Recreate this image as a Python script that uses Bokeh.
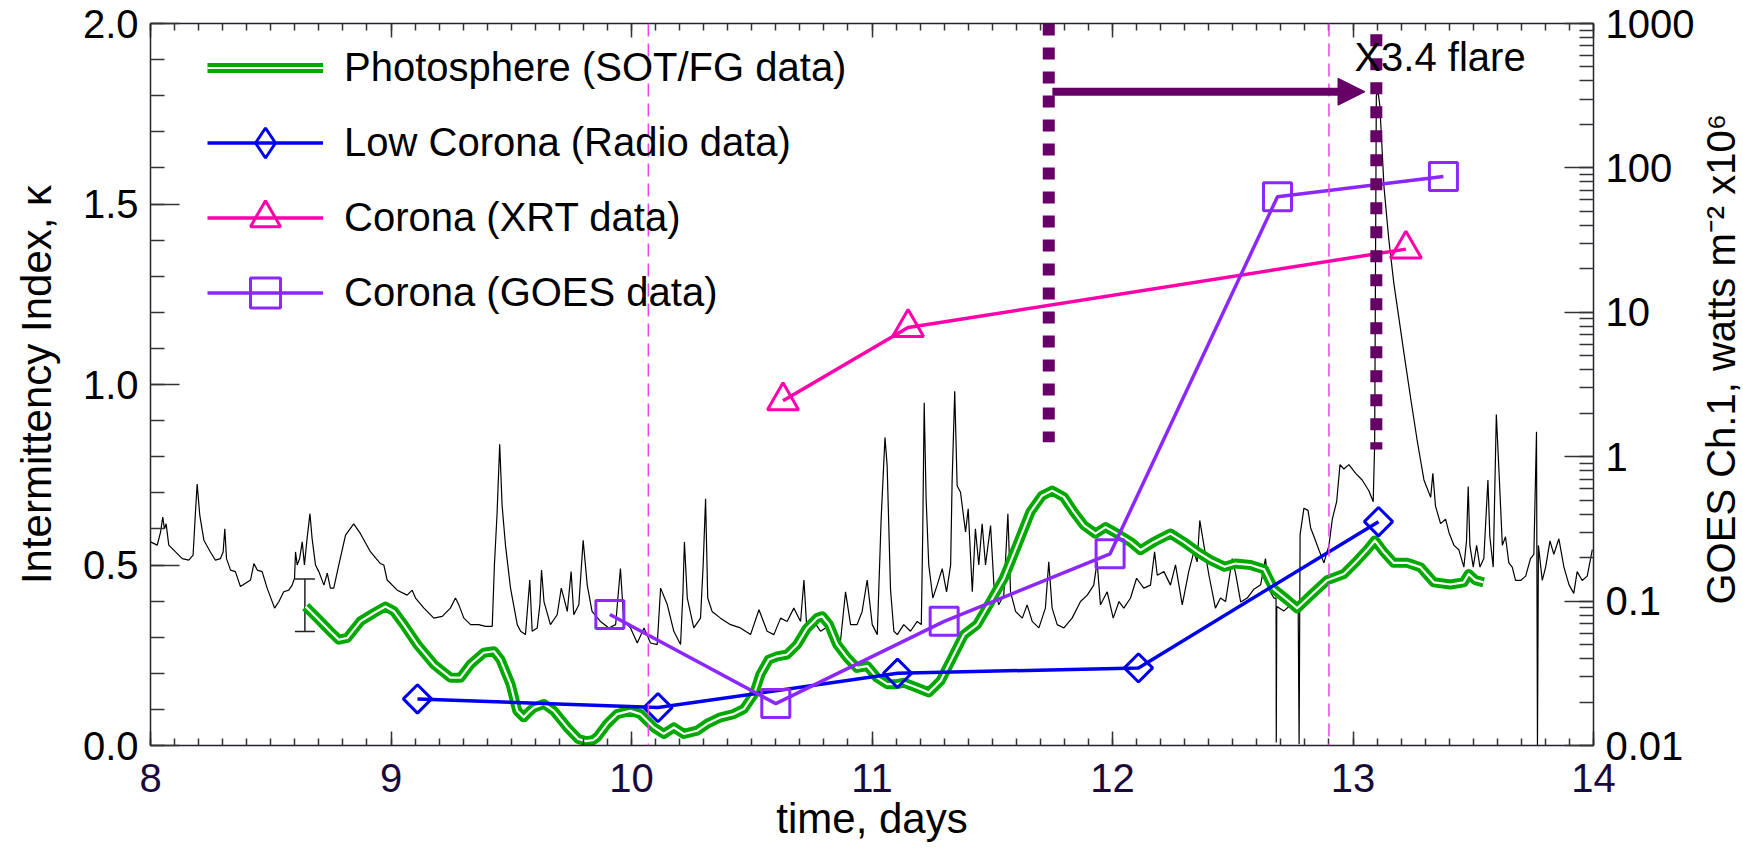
import numpy as np
from bokeh.plotting import figure
from bokeh.layouts import row
from bokeh.models import (Range1d, LinearAxis, LogAxis, LogScale, SingleIntervalTicker, LogTicker,
                          CustomJSTickFormatter, Legend, LegendItem, Whisker,
                          TeeHead, Arrow, NormalHead, Label, Span, ColumnDataSource)
from bokeh.embed import file_html
from bokeh.resources import INLINE

# ---------------- data ----------------
# GOES channel 1 flux (right axis, watts m^-2 x10^6)
goes_t = [
    8.000, 8.028, 8.042, 8.051, 8.058, 8.065, 8.076, 8.104, 8.132, 8.159,
    8.177, 8.187, 8.194, 8.205, 8.222, 8.249, 8.270, 8.291, 8.302, 8.309,
    8.316, 8.333, 8.353, 8.374, 8.395, 8.416, 8.430, 8.444, 8.464, 8.485,
    8.516, 8.534, 8.554, 8.575, 8.589, 8.599, 8.603, 8.610, 8.620, 8.631,
    8.640, 8.651, 8.663, 8.672, 8.686, 8.700, 8.721, 8.735, 8.748, 8.762,
    8.783, 8.811, 8.845, 8.873, 8.915, 8.956, 8.970, 8.984, 9.026, 9.067,
    9.088, 9.102, 9.137, 9.178, 9.213, 9.247, 9.268, 9.282, 9.303, 9.331,
    9.365, 9.393, 9.421, 9.430, 9.441, 9.452, 9.462, 9.476, 9.497, 9.525,
    9.539, 9.559, 9.577, 9.587, 9.608, 9.619, 9.626, 9.636, 9.663, 9.691,
    9.708, 9.719, 9.733, 9.749, 9.760, 9.781, 9.799, 9.816, 9.836, 9.871,
    9.906, 9.934, 9.954, 9.968, 9.996, 10.024, 10.052, 10.079, 10.107, 10.121,
    10.149, 10.176, 10.204, 10.214, 10.220, 10.232, 10.259, 10.287, 10.298, 10.308,
    10.317, 10.335, 10.370, 10.412, 10.453, 10.495, 10.530, 10.564, 10.592, 10.620,
    10.647, 10.675, 10.703, 10.717, 10.728, 10.758, 10.786, 10.828, 10.869, 10.890,
    10.911, 10.938, 10.959, 10.980, 11.001, 11.022, 11.038, 11.054, 11.063, 11.077,
    11.091, 11.105, 11.132, 11.160, 11.188, 11.205, 11.211, 11.217, 11.225, 11.236,
    11.253, 11.271, 11.292, 11.310, 11.327, 11.333, 11.344, 11.354, 11.368, 11.389,
    11.400, 11.417, 11.430, 11.444, 11.458, 11.472, 11.493, 11.507, 11.527, 11.548,
    11.565, 11.576, 11.597, 11.625, 11.645, 11.666, 11.694, 11.721, 11.735, 11.749,
    11.770, 11.798, 11.832, 11.867, 11.895, 11.922, 11.936, 11.950, 11.978, 12.003,
    12.027, 12.047, 12.075, 12.100, 12.130, 12.158, 12.175, 12.186, 12.214, 12.241,
    12.262, 12.290, 12.317, 12.338, 12.352, 12.363, 12.380, 12.401, 12.428, 12.449,
    12.470, 12.498, 12.512, 12.533, 12.560, 12.588, 12.616, 12.636, 12.650, 12.671,
    12.680, 12.681, 12.683, 12.713, 12.754, 12.772, 12.776, 12.780, 12.796, 12.813,
    12.824, 12.838, 12.858, 12.879, 12.900, 12.914, 12.932, 12.946, 12.962, 12.983,
    13.011, 13.038, 13.066, 13.084, 13.090, 13.097, 13.104, 13.111, 13.117, 13.129,
    13.149, 13.170, 13.191, 13.212, 13.239, 13.267, 13.295, 13.323, 13.332, 13.343,
    13.364, 13.385, 13.399, 13.420, 13.440, 13.461, 13.472, 13.479, 13.486, 13.500,
    13.514, 13.528, 13.544, 13.561, 13.569, 13.583, 13.596, 13.607, 13.621, 13.634,
    13.648, 13.662, 13.676, 13.697, 13.718, 13.738, 13.752, 13.763, 13.767, 13.771,
    13.787, 13.801, 13.819, 13.835, 13.856, 13.877, 13.898, 13.918, 13.932, 13.953,
    13.974, 13.995,
]
goes_flux = [
    0.257, 0.244, 0.301, 0.382, 0.317, 0.343, 0.244, 0.219, 0.197, 0.192,
    0.208, 0.413, 0.647, 0.392, 0.264, 0.219, 0.192, 0.197, 0.219, 0.317,
    0.197, 0.164, 0.160, 0.126, 0.133, 0.140, 0.182, 0.164, 0.160, 0.123,
    0.0894, 0.0993, 0.116, 0.119, 0.129, 0.144, 0.219, 0.178, 0.197, 0.257,
    0.178, 0.271, 0.403, 0.271, 0.178, 0.160, 0.129, 0.156, 0.123, 0.123,
    0.178, 0.286, 0.343, 0.293, 0.219, 0.182, 0.178, 0.140, 0.119, 0.110,
    0.119, 0.105, 0.0894, 0.0762, 0.0783, 0.0894, 0.105, 0.0942, 0.0762, 0.0687,
    0.0687, 0.0669, 0.0669, 0.178, 0.403, 1.22, 0.459, 0.244, 0.123, 0.0687,
    0.0618, 0.0586, 0.140, 0.0618, 0.0652, 0.0942, 0.164, 0.0993, 0.0687, 0.0804,
    0.123, 0.105, 0.0848, 0.160, 0.0804, 0.0942, 0.264, 0.129, 0.0848, 0.0723,
    0.0652, 0.0687, 0.168, 0.0723, 0.0652, 0.0513, 0.0652, 0.0513, 0.0500, 0.123,
    0.0942, 0.0618, 0.0500, 0.116, 0.257, 0.105, 0.0652, 0.0762, 0.178, 0.511,
    0.105, 0.0848, 0.0762, 0.0687, 0.0652, 0.0586, 0.0871, 0.0618, 0.0586, 0.0762,
    0.0723, 0.0894, 0.0723, 0.140, 0.0687, 0.0723, 0.0618, 0.0687, 0.0527, 0.116,
    0.0687, 0.0687, 0.0848, 0.140, 0.0687, 0.0586, 0.371, 1.36, 0.865, 0.120,
    0.0618, 0.0586, 0.0687, 0.0618, 0.0723, 0.0687, 0.301, 2.36, 0.511, 0.178,
    0.105, 0.129, 0.168, 0.116, 0.178, 0.664, 2.84, 0.630, 0.567, 0.301,
    0.436, 0.116, 0.317, 0.178, 0.343, 0.178, 0.334, 0.129, 0.0942, 0.110,
    0.403, 0.116, 0.0848, 0.0762, 0.0942, 0.0723, 0.0652, 0.0894, 0.187, 0.0894,
    0.0687, 0.0652, 0.0762, 0.0993, 0.110, 0.129, 0.187, 0.0942, 0.116, 0.0762,
    0.0993, 0.0894, 0.105, 0.144, 0.123, 0.129, 0.219, 0.151, 0.160, 0.129,
    0.178, 0.0942, 0.160, 0.219, 0.187, 0.362, 0.244, 0.151, 0.0894, 0.105,
    0.0993, 0.197, 0.155, 0.0984, 0.105, 0.121, 0.130, 0.197, 0.121, 0.105,
    0.105, 0.0105, 0.0917, 0.0855, 0.0984, 0.0917, 0.0102, 0.289, 0.440, 0.425,
    0.321, 0.279, 0.227, 0.184, 0.243, 0.369, 0.488, 0.881, 0.822, 0.881,
    0.767, 0.690, 0.581, 0.488, 1.21, 316.0, 339.0, 275.0, 181.0, 73.3,
    31.8, 15.8, 9.08, 5.20, 2.59, 1.29, 0.690, 0.523, 0.767, 0.455,
    0.344, 0.369, 0.299, 0.243, 0.227, 0.172, 0.261, 0.622, 0.243, 0.172,
    0.243, 0.172, 0.197, 0.690, 0.279, 0.172, 1.96, 0.794, 0.243, 0.279,
    0.184, 0.172, 0.139, 0.139, 0.149, 0.197, 0.211, 1.49, 0.0099, 0.243,
    0.139, 0.172, 0.261, 0.211, 0.270, 0.172, 0.130, 0.113, 0.160, 0.139,
    0.149, 0.227,
]

# Photosphere intermittency index (SOT/FG)
photo_t = [
    8.645, 8.693, 8.748, 8.783, 8.818, 8.873, 8.929, 8.977, 9.012, 9.053,
    9.109, 9.178, 9.247, 9.289, 9.331, 9.386, 9.428, 9.455, 9.497, 9.525,
    9.552, 9.572, 9.594, 9.636, 9.677, 9.733, 9.779, 9.810, 9.840, 9.857,
    9.899, 9.940, 9.995, 10.037, 10.093, 10.134, 10.176, 10.217, 10.273, 10.314,
    10.370, 10.425, 10.467, 10.509, 10.536, 10.571, 10.606, 10.647, 10.689, 10.730,
    10.772, 10.793, 10.821, 10.855, 10.897, 10.938, 10.980, 11.021, 11.063, 11.104,
    11.133, 11.188, 11.236, 11.285, 11.327, 11.382, 11.437, 11.493, 11.548, 11.604,
    11.659, 11.707, 11.749, 11.798, 11.839, 11.881, 11.929, 11.971, 12.019, 12.075,
    12.116, 12.172, 12.241, 12.296, 12.352, 12.407, 12.466, 12.511, 12.574, 12.630,
    12.671, 12.727, 12.768, 12.823, 12.893, 12.962, 13.017, 13.059, 13.091, 13.128,
    13.169, 13.225, 13.280, 13.336, 13.405, 13.460, 13.481, 13.509, 13.543,
]
photo_k = [
    0.385, 0.353, 0.316, 0.293, 0.298, 0.344, 0.367, 0.385, 0.372, 0.335,
    0.280, 0.225, 0.188, 0.188, 0.225, 0.257, 0.261, 0.238, 0.170, 0.096,
    0.078, 0.092, 0.105, 0.115, 0.096, 0.050, 0.018, 0.012, 0.015, 0.023,
    0.060, 0.087, 0.096, 0.087, 0.050, 0.032, 0.050, 0.032, 0.041, 0.060,
    0.078, 0.087, 0.101, 0.142, 0.197, 0.238, 0.247, 0.252, 0.280, 0.325,
    0.353, 0.358, 0.335, 0.280, 0.243, 0.215, 0.220, 0.188, 0.170, 0.170,
    0.174, 0.160, 0.147, 0.179, 0.234, 0.307, 0.335, 0.399, 0.463, 0.555,
    0.647, 0.692, 0.706, 0.688, 0.647, 0.610, 0.587, 0.605, 0.587, 0.564,
    0.541, 0.564, 0.587, 0.564, 0.537, 0.514, 0.495, 0.504, 0.500, 0.488,
    0.433, 0.403, 0.380, 0.415, 0.458, 0.475, 0.512, 0.542, 0.568, 0.536,
    0.506, 0.506, 0.494, 0.452, 0.446, 0.452, 0.475, 0.458, 0.452,
]

# Low corona (radio)
radio_t = [9.11, 10.11, 11.106, 12.108, 13.106]
radio_k = [0.129, 0.105, 0.200, 0.215, 0.620]

# Corona (XRT)
xrt_t = [10.63, 11.15, 13.22]
xrt_k = [0.955, 1.158, 1.375]

# Corona (GOES)
goesk_t = [9.91, 10.60, 11.30, 11.99, 12.686, 13.376]
goesk_k = [0.363, 0.116, 0.344, 0.531, 1.520, 1.576]

# error bar on first photosphere value
err_t = [8.642]
err_lo = [0.316]
err_hi = [0.461]

# thin dashed magenta markers
dash_t = [10.07, 12.90]

# flare onset / peak markers
dot_t = [11.735, 13.097]
dot_top = [2.0, 1.97]
dot_bot = [0.84, 0.82]
arrow_t0, arrow_t1, arrow_k = 11.75, 13.05, 1.811
flare_label = "X3.4 flare"
flare_label_t, flare_label_k = 13.006, 1.906

labels = ["Photosphere (SOT/FG data)", "Low Corona (Radio data)",
          "Corona (XRT data)", "Corona (GOES data)"]
right_title = "GOES Ch.1, watts m\u207b\u00b2 x10\u2076"

x_range = (8, 14)
k_range = (0.0, 2.0)
flux_range = (0.01, 1000)

# ---------------- styling ----------------
FONT = "Liberation Sans"
GREEN = "#00a800"
BLUE = "#0000ee"
PINK = "#ff00aa"
PURPLE = "#8c28ff"
DARKP = "#660066"
MAG = "#ee44ee"

TOTAL_W, TOTAL_H = 1743, 856
PLOT_W = 1697                 # main chart; the strip to its right holds the right axis title
STRIP_W = TOTAL_W - PLOT_W
FRAME_TOP, FRAME_BOTTOM = 23, 745

p = figure(width=PLOT_W, height=TOTAL_H, x_range=Range1d(*x_range), y_range=Range1d(*k_range),
           output_backend="svg", toolbar_location=None,
           x_axis_location=None, y_axis_location=None,
           min_border_left=150, min_border_right=PLOT_W - 1593, min_border_top=FRAME_TOP,
           min_border_bottom=TOTAL_H - FRAME_BOTTOM)
p.extra_y_ranges = {"goes": Range1d(*flux_range), "proxy": Range1d(50, 60)}
p.extra_y_scales = {"goes": LogScale()}
p.outline_line_color = None
p.background_fill_color = "white"
p.border_fill_color = "white"
for g in p.grid:
    g.visible = False


def style(ax, tin, tmin):
    ax.axis_line_color = "#222233"
    ax.axis_line_width = 1.5
    ax.major_tick_out = 0
    ax.minor_tick_out = 0
    ax.major_tick_in = tin
    ax.minor_tick_in = tmin
    ax.major_tick_line_color = "#333333"
    ax.minor_tick_line_color = "#333333"
    ax.major_tick_line_width = 1.5
    ax.minor_tick_line_width = 1.5
    ax.major_label_text_font = FONT
    ax.major_label_text_font_size = "40px"
    ax.major_label_text_color = "black"
    ax.axis_label_text_font = FONT
    ax.axis_label_text_font_size = "42px"
    ax.axis_label_text_font_style = "normal"
    ax.axis_label_text_color = "black"


xb = LinearAxis(ticker=SingleIntervalTicker(interval=1, num_minor_ticks=10),
                axis_label="time, days")
style(xb, 14, 7)
xb.major_label_text_color = "#1a0a3c"
xb.major_label_standoff = 18
xb.axis_label_standoff = 0
p.add_layout(xb, "below")

xt = LinearAxis(ticker=SingleIntervalTicker(interval=1, num_minor_ticks=10),
                formatter=CustomJSTickFormatter(code="return ''"))
style(xt, 14, 7)
xt.major_label_text_font_size = "0px"
p.add_layout(xt, "above")

yl = LinearAxis(ticker=SingleIntervalTicker(interval=0.5, num_minor_ticks=5),
                formatter=CustomJSTickFormatter(code="return tick.toFixed(1);"),
                axis_label="Intermittency Index, κ")
style(yl, 29, 14)
yl.major_label_standoff = 12
yl.axis_label_standoff = 20
p.add_layout(yl, "left")

yr = LogAxis(y_range_name="goes", ticker=LogTicker(desired_num_ticks=6, num_minor_ticks=10),
             formatter=CustomJSTickFormatter(code="""
const e = Math.round(Math.log10(tick));
if (e >= 0) return String(Math.round(Math.pow(10, e)));
return '0.' + '0'.repeat(-e - 1) + '1';
"""))
style(yr, 29, 14)
yr.major_label_standoff = 12
p.add_layout(yr, "right")

# ---------------- renderers ----------------
p.line(goes_t, goes_flux, y_range_name="goes", line_color="black", line_width=1.2)

for x in dash_t:
    p.add_layout(Span(location=x, dimension="height", line_color=MAG,
                      line_width=1.5, line_dash="13 7"))

g1 = p.line(photo_t, photo_k, line_color=GREEN, line_width=10, line_join="round")
g2 = p.line(photo_t, photo_k, line_color="white", line_width=2.2, line_join="round")

b1 = p.line(radio_t, radio_k, line_color=BLUE, line_width=3.5)
b2 = p.scatter(radio_t, radio_k, marker="square", angle=np.pi / 4, size=20,
               fill_color=None, line_color=BLUE, line_width=3)
# legend-only proxy: the legend does not rotate markers, so it gets a diamond glyph;
# on a range far outside the frame it draws nothing in the plot itself
b3 = p.scatter(radio_t, radio_k, y_range_name="proxy", marker="diamond", size=30,
               fill_color=None, line_color=BLUE, line_width=3)

k1 = p.line(xrt_t, xrt_k, line_color=PINK, line_width=3.5)
k2 = p.scatter(xrt_t, xrt_k, marker="triangle", size=31,
               fill_color=None, line_color=PINK, line_width=3)

q1 = p.line(goesk_t, goesk_k, line_color=PURPLE, line_width=3.5)
q2 = p.scatter(goesk_t, goesk_k, marker="square", size=28,
               fill_color=None, line_color=PURPLE, line_width=3)

err_src = ColumnDataSource(dict(t=err_t, lo=err_lo, hi=err_hi))
p.add_layout(Whisker(source=err_src, base="t", lower="lo", upper="hi", dimension="height",
                     line_color="#222222", line_width=1.5,
                     upper_head=TeeHead(size=20, line_color="#222222", line_width=1.5),
                     lower_head=TeeHead(size=20, line_color="#222222", line_width=1.5)))

p.segment(x0=dot_t, y0=dot_top, x1=dot_t, y1=dot_bot, line_color=DARKP,
          line_width=12, line_dash="12 12", line_cap="butt")

p.add_layout(Arrow(x_start=arrow_t0, y_start=arrow_k, x_end=arrow_t1, y_end=arrow_k,
                   line_color=DARKP, line_width=8,
                   end=NormalHead(size=27, fill_color=DARKP, line_color=DARKP, line_width=1)))

p.add_layout(Label(x=flare_label_t, y=flare_label_k, text=flare_label,
                   text_font=FONT, text_font_size="40px", text_baseline="middle",
                   text_color="black"))

legend = Legend(items=[
    LegendItem(label=labels[0], renderers=[g1, g2]),
    LegendItem(label=labels[1], renderers=[b1, b3]),
    LegendItem(label=labels[2], renderers=[k1, k2]),
    LegendItem(label=labels[3], renderers=[q1, q2]),
], location=(57, 415), glyph_width=116, glyph_height=75, label_standoff=21,
    spacing=0, padding=0, margin=0, border_line_alpha=0, background_fill_alpha=0,
    label_text_font=FONT, label_text_font_size="40px", label_text_color="black")
p.add_layout(legend)

# ---------------- right axis title strip (reads bottom-to-top) ----------------
strip = figure(width=STRIP_W, height=TOTAL_H, x_range=Range1d(0, STRIP_W),
               y_range=Range1d(0, TOTAL_H), output_backend="svg", toolbar_location=None,
               x_axis_location=None, y_axis_location=None, min_border=0)
strip.outline_line_color = None
strip.background_fill_color = "white"
strip.border_fill_color = "white"
for g in strip.grid:
    g.visible = False
# text box centred in the strip, about the plot frame's vertical middle
TITLE_CENTRE_FROM_TOP = 398
strip.add_layout(Label(x=STRIP_W / 2, y=TOTAL_H - TITLE_CENTRE_FROM_TOP,
                       text=right_title, angle=90, angle_units="deg",
                       text_align="center", text_baseline="middle",
                       text_font=FONT, text_font_size="40px", text_color="black"))

layout = row(p, strip, spacing=0)
open("out.html", "w").write(file_html(layout, INLINE))
